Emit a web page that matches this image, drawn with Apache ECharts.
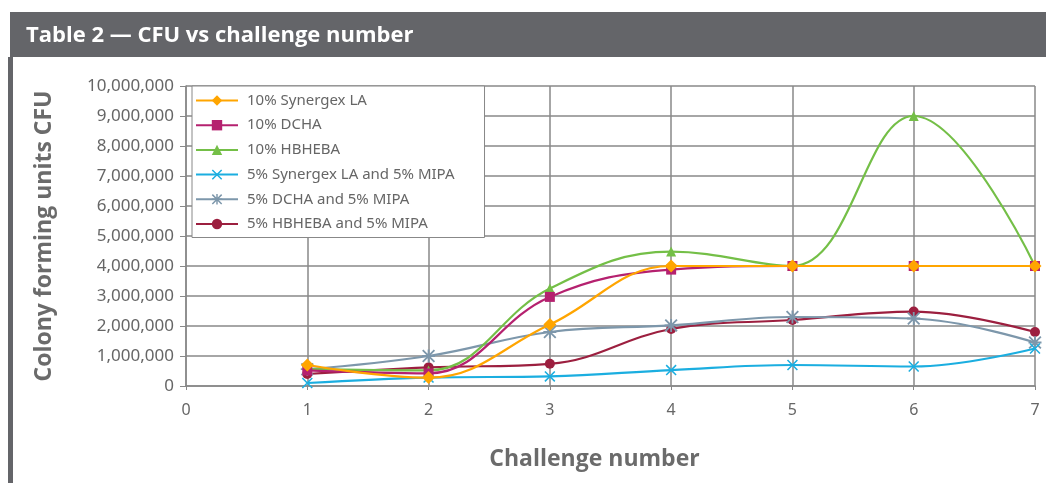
<!DOCTYPE html>
<html><head><meta charset="utf-8">
<script src="https://cdn.jsdelivr.net/npm/echarts@6/dist/echarts.min.js"></script>
<style>html,body{margin:0;padding:0;background:#fff}#c{width:1046px;height:483px}</style>
</head><body><div id="c"></div>
<script>
const challenges = [1, 2, 3, 4, 5, 6, 7];
const seriesNames = ["10% Synergex LA", "10% DCHA", "10% HBHEBA", "5% Synergex LA and 5% MIPA", "5% DCHA and 5% MIPA", "5% HBHEBA and 5% MIPA"];
const synergexLA = [700000, 280000, 2050000, 4000000, 4000000, 4000000, 4000000];
const dcha = [520000, 420000, 2970000, 3880000, 4000000, 4000000, 4000000];
const hbheba = [560000, 520000, 3250000, 4480000, 4000000, 9000000, 4000000];
const synergexMipa = [100000, 280000, 320000, 530000, 700000, 650000, 1250000];
const dchaMipa = [560000, 1000000, 1800000, 2020000, 2300000, 2250000, 1450000];
const hbhebaMipa = [400000, 620000, 740000, 1900000, 2200000, 2480000, 1800000];
const xTicks = [0, 1, 2, 3, 4, 5, 6, 7];

const values = [synergexLA, dcha, hbheba, synergexMipa, dchaMipa, hbhebaMipa];
const colors = ["#FFA500", "#B5216F", "#74BF47", "#1BAEE0", "#7D97AB", "#9C1F3F"];
const crossPath = 'path://M0,1L1,0L10,9L9,10Z M9,0L10,1L1,10L0,9Z';
const starPath = 'path://M0,1L1,0L10,9L9,10Z M9,0L10,1L1,10L0,9Z M4.3,0L5.7,0L5.7,10L4.3,10Z M0,4.3L10,4.3L10,5.7L0,5.7Z';
const symbols = ["diamond", "rect", "triangle", crossPath, starPath, "circle"];
const sizes = [13, 10, 10, 11, 13, 10];

const chart = echarts.init(document.getElementById('c'));
chart.setOption({
  animation: false,
  backgroundColor: '#fff',
  graphic: [
    {type: 'rect', left: 10, top: 12, shape: {width: 1036, height: 45}, style: {fill: '#646569'}, z: -1},
    {type: 'rect', left: 8, top: 57, shape: {width: 5, height: 426}, style: {fill: '#646569'}, z: -1}
  ],
  title: {
    text: 'Table 2 \u2014 CFU vs challenge number',
    left: 21, top: 20,
    textStyle: {color: '#fff', fontFamily: 'Open Sans', fontWeight: 'bold', fontSize: 22}
  },
  grid: {left: 186, right: 11, top: 86, bottom: 97},
  legend: {
    orient: 'vertical', left: 192, top: 86,
    width: 290,
    padding: [7, 30, 6, 3],
    backgroundColor: '#fff', borderColor: '#888', borderWidth: 1,
    itemWidth: 42, itemHeight: 13, itemGap: 9.7,
    textStyle: {color: '#666', fontFamily: 'Noto Sans', fontSize: 15, padding: [0, 0, 0, 4]},
    data: seriesNames
  },
  xAxis: {
    type: 'value', min: 0, max: 7, interval: 1,
    name: 'Challenge number', nameLocation: 'middle', nameGap: 62,
    nameTextStyle: {color: '#6b6b6b', fontFamily: 'Open Sans', fontWeight: 'bold', fontSize: 23, padding: [0, 32, 0, 0]},
    axisLine: {show: true, lineStyle: {color: '#888', width: 1.5}},
    axisTick: {show: true, length: 4, lineStyle: {color: '#888'}},
    axisLabel: {color: '#666', fontFamily: 'Noto Sans', fontSize: 16, margin: 16,
      formatter: v => xTicks.includes(v) ? String(v) : ''},
    splitLine: {show: true, lineStyle: {color: '#888', width: 1.5}}
  },
  yAxis: {
    type: 'value', min: 0, max: 10000000, interval: 1000000,
    name: 'Colony forming units CFU', nameLocation: 'middle', nameGap: 130, nameRotate: 90,
    nameTextStyle: {color: '#6b6b6b', fontFamily: 'Open Sans', fontWeight: 'bold', fontSize: 23},
    axisLine: {show: true, lineStyle: {color: '#888', width: 1.5}},
    axisTick: {show: true, length: 6, lineStyle: {color: '#888'}},
    axisLabel: {color: '#666', fontFamily: 'Noto Sans', fontSize: 17, margin: 12,
      formatter: v => v.toLocaleString('en-US')},
    splitLine: {show: true, lineStyle: {color: '#888', width: 1.5}}
  },
  series: seriesNames.map((n, i) => ({
    name: n, type: 'line', smooth: 0.4,
    data: challenges.map((c, j) => [c, values[i][j]]),
    symbol: symbols[i], symbolSize: sizes[i], showAllSymbol: true,
    itemStyle: {color: colors[i]},
    lineStyle: {color: colors[i], width: 2.2},
    z: 10 - i
  }))
});
</script></body></html>
